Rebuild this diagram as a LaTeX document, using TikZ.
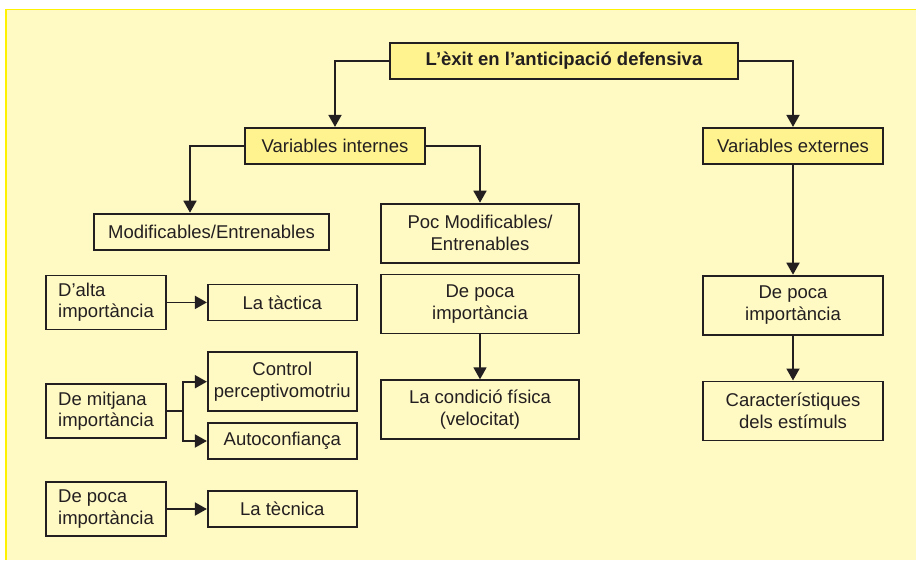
\documentclass[tikz,border=0pt]{standalone}
\usepackage{fontspec}
\setmainfont{Liberation Sans}
\usepackage{xcolor}
\usetikzlibrary{arrows.meta,positioning}
\definecolor{pagebg}{HTML}{FFF9C4}
\definecolor{headfill}{HTML}{FFF38F}
\definecolor{frameyellow}{HTML}{FFF200}
\definecolor{inkline}{HTML}{231F20}

\begin{document}
\begin{tikzpicture}[
    box/.style={rectangle, draw=inkline, fill=pagebg, line width=1.8pt, inner sep=0pt, align=center, minimum width=180pt, minimum height=59pt, text=inkline, font=\fontsize{18.5}{21.5}\selectfont},
    box_head/.style={box, fill=headfill, minimum height=36pt},
    box_left/.style={box, align=left, minimum width=120pt, minimum height=54pt},
    box_small/.style={box, minimum width=149pt, minimum height=36pt},
    arrow/.style={-{Triangle[length=12pt,width=13pt]}, line width=1.8pt, draw=inkline}
]
    % Page and frame
    \useasboundingbox (0,0) rectangle (916pt,-560pt);
    \fill[white] (0,0) rectangle (916pt,-560pt);
    \fill[pagebg] (5pt,-9pt) rectangle (916pt,-560pt);
    \draw[frameyellow, line width=2pt] (6pt,-9pt) -- (6pt,-560pt);
    \draw[frameyellow, line width=1.5pt] (5pt,-9.5pt) -- (916pt,-9.5pt);

    % Top levels
    \node (exit) [box_head, minimum width=348pt, font=\fontsize{18.5}{21.5}\selectfont\bfseries] at (564pt,-61pt) {L’èxit en l’anticipació defensiva};
    \node (internes) [box_head, below=47pt of exit, xshift=-229pt] {Variables internes};
    \node (externes) [box_head, below=47pt of exit, xshift=229pt] {Variables externes};

    % Internal branch
    \node (modif) [box, minimum width=235pt, minimum height=36pt, below=48pt of internes, xshift=-123.5pt] {Modificables/Entrenables};
    \node (pocmodif) [box, minimum width=198pt, below=38pt of internes, xshift=145pt] {Poc Modificables/\\Entrenables};
    \node (poca_int) [box, minimum width=198pt, below=10pt of pocmodif] {De poca\\importància};
    \node (condicio) [box, minimum width=198pt, below=45pt of poca_int] {La condició física\\(velocitat)};

    % External branch
    \node (poca_ext) [box, below=110pt of externes] {De poca\\importància};
    \node (estimuls) [box, below=45pt of poca_ext] {Característiques\\dels estímuls};

    % Trainable factors
    \node (alta) [box_left, below=24pt of modif, xshift=-105.5pt] {D’alta\\importància};
    \node (tactica) [box_small, right=40pt of alta] {La tàctica};
    \node (mitjana) [box_left, below=53pt of alta] {De mitjana\\importància};
    \node (control) [box_small, minimum height=59pt, right=40pt of mitjana, yshift=29.5pt] {Control\\perceptivomotriu};
    \node (autoconf) [box_small, below=10pt of control] {Autoconfiança};
    \node (poca_mod) [box_left, below=42pt of mitjana] {De poca\\importància};
    \node (tecnica) [box_small, right=40pt of poca_mod] {La tècnica};

    % Arrows
    \draw [arrow] (exit.west) -| (internes.north);
    \draw [arrow] (exit.east) -| (externes.north);
    \draw [arrow] (internes.west) -| ([xshift=-21.5pt]modif.north);
    \draw [arrow] (internes.east) -| (pocmodif.north);
    \draw [arrow] (poca_int) -- (condicio);
    \draw [arrow] (externes) -- (poca_ext);
    \draw [arrow] (poca_ext) -- (estimuls);
    \draw [arrow] (alta) -- (tactica);
    \coordinate (split) at ([xshift=16pt]mitjana.east);
    \draw [arrow] (mitjana.east) -- (split) |- (control.west);
    \draw [arrow] (split) |- (autoconf.west);
    \draw [arrow] (poca_mod) -- (tecnica);
\end{tikzpicture}
\end{document}
